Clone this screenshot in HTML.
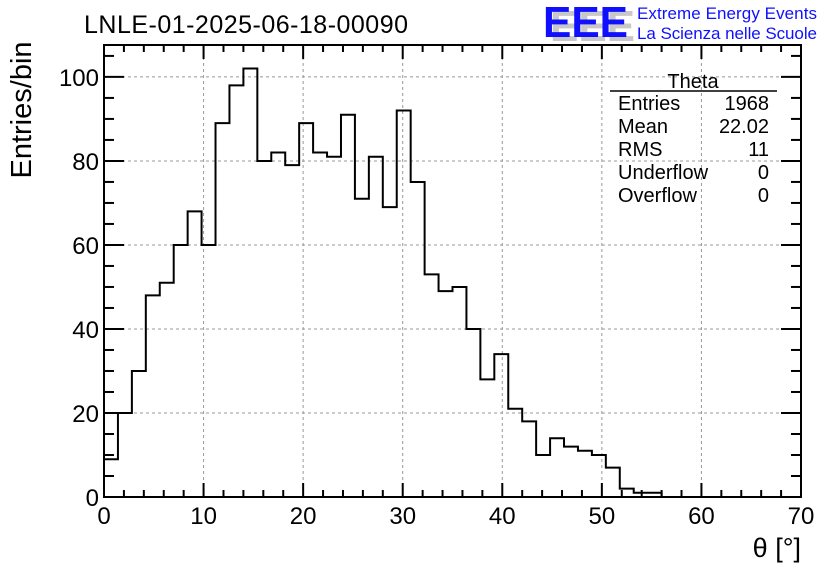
<!DOCTYPE html>
<html><head><meta charset="utf-8"><style>
html,body{margin:0;padding:0;background:#fff;}
svg{display:block;font-family:"Liberation Sans",sans-serif;}
</style></head><body>
<svg id="c" width="836" height="572" viewBox="0 0 836 572">
<rect width="836" height="572" fill="#fff"/>
<text x="84" y="33" font-size="25" textLength="324">LNLE-01-2025-06-18-00090</text>
<g>
<text x="550" y="41" font-size="44" font-weight="bold" fill="#c8c8c8" textLength="85" lengthAdjust="spacingAndGlyphs">EEE</text>
<text x="543" y="37" font-size="44" font-weight="bold" fill="#1010ff" textLength="85" lengthAdjust="spacingAndGlyphs">EEE</text>
<text x="637" y="19" font-size="17" fill="#1010ff" textLength="180">Extreme Energy Events</text>
<text x="637" y="39" font-size="17" fill="#1010ff" textLength="180">La Scienza nelle Scuole</text>
</g>
<g id="grid"></g>
<g id="hist"></g>
<g id="axes"></g>
<g font-size="20">
<text x="693" y="88" text-anchor="middle">Theta</text>
<line x1="610" y1="91" x2="777" y2="91" stroke="#000" stroke-width="1.5"/>
<text x="618" y="110">Entries</text><text x="769" y="110" text-anchor="end">1968</text>
<text x="618" y="133">Mean</text><text x="769" y="133" text-anchor="end">22.02</text>
<text x="618" y="156">RMS</text><text x="769" y="156" text-anchor="end">11</text>
<text x="618" y="179">Underflow</text><text x="769" y="179" text-anchor="end">0</text>
<text x="618" y="202">Overflow</text><text x="769" y="202" text-anchor="end">0</text>
</g>
<text transform="translate(31,110) rotate(-90)" text-anchor="middle" font-size="29">Entries/bin</text>
<text x="801" y="557" text-anchor="end" font-size="27">θ [°]</text>
</svg>
<script>
const binWidth = 1.4;
const counts = [9,20,30,48,51,60,68,60,89,98,102,80,82,79,89,82,81,91,71,81,69,92,75,53,49,50,40,28,34,21,18,10,14,12,11,10,7,2,1,1,0,0,0,0,0,0,0,0,0,0];
const xTicks = [0,10,20,30,40,50,60,70];
const yTicks = [0,20,40,60,80,100];
const NS='http://www.w3.org/2000/svg';
const L=104,R=801,T=45,B=497;
const xMin=0,xMax=70,yMin=0,yMax=107.6;
function X(v){return L+(v-xMin)/(xMax-xMin)*(R-L);}
function Y(v){return B-(v-yMin)/(yMax-yMin)*(B-T);}
function mk(tag,attrs,parent){const e=document.createElementNS(NS,tag);for(const k in attrs)e.setAttribute(k,attrs[k]);parent.appendChild(e);return e;}
const grid=document.getElementById('grid'),axes=document.getElementById('axes'),hist=document.getElementById('hist');
xTicks.forEach(v=>{if(v>xMin&&v<xMax){const l=mk('line',{x1:X(v),y1:T,x2:X(v),y2:B,stroke:'#999','stroke-dasharray':'3,3','stroke-width':1},grid);

}});
yTicks.forEach(v=>{if(v>yMin){const l=mk('line',{x1:L,y1:Y(v),x2:R,y2:Y(v),stroke:'#999','stroke-dasharray':'3,3','stroke-width':1},grid);

}});
let d='M'+X(0)+','+Y(0);
counts.forEach((c,i)=>{d+=' L'+X(i*binWidth)+','+Y(c)+' L'+X((i+1)*binWidth)+','+Y(c);});
d+=' L'+X(counts.length*binWidth)+','+Y(0);
const p=mk('path',{d:d,fill:'none',stroke:'#000','stroke-width':2},hist);


mk('rect',{x:L,y:T,width:R-L,height:B-T,fill:'none',stroke:'#000','stroke-width':2},axes);
for(let v=0;v<=70;v+=2){const maj=v%10===0;const len=maj?14:7;
mk('line',{x1:X(v),y1:B,x2:X(v),y2:B-len,stroke:'#000','stroke-width':2},axes);
mk('line',{x1:X(v),y1:T,x2:X(v),y2:T+len,stroke:'#000','stroke-width':2},axes);}
for(let v=0;v<=105;v+=5){const maj=v%20===0;const len=maj?20:10;
mk('line',{x1:L,y1:Y(v),x2:L+len,y2:Y(v),stroke:'#000','stroke-width':2},axes);
mk('line',{x1:R,y1:Y(v),x2:R-len,y2:Y(v),stroke:'#000','stroke-width':2},axes);}
xTicks.forEach(v=>{const t=mk('text',{x:X(v),y:B+27,'text-anchor':'middle','font-size':24},axes);t.textContent=v;

});
yTicks.forEach(v=>{const t=mk('text',{x:L-5,y:Y(v)+9,'text-anchor':'end','font-size':24},axes);t.textContent=v;

});
</script>
</body></html>
